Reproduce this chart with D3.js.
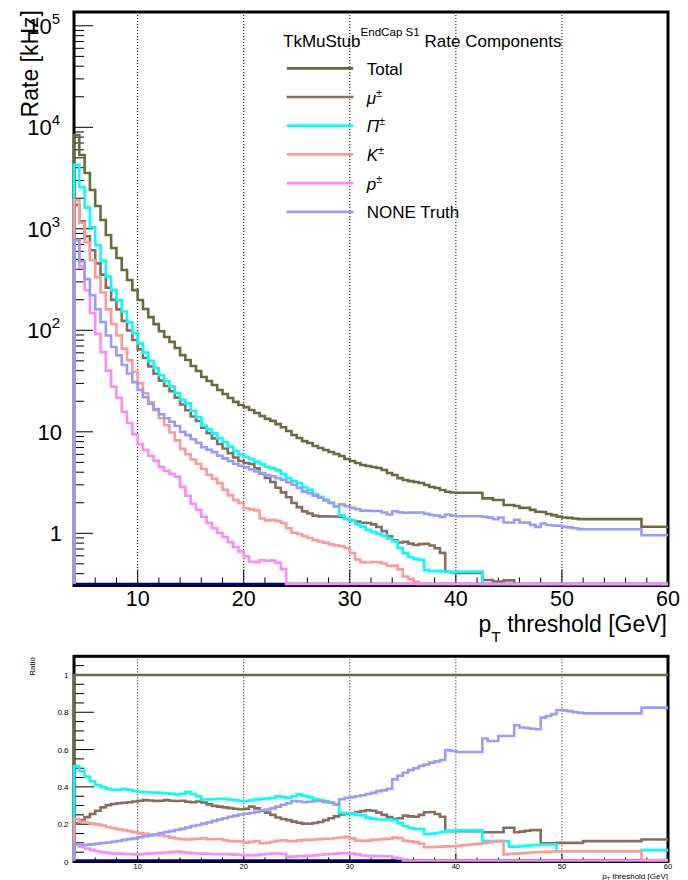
<!DOCTYPE html>
<html>
<head>
<meta charset="utf-8">
<script src="https://cdn.jsdelivr.net/npm/d3@7"></script>
<style>
  body { margin: 0; background: #fff; }
  svg { display: block; }
  text { font-family: "Liberation Sans", Arial, Helvetica, sans-serif; fill: #000; }
</style>
</head>
<body>
<svg id="chart" width="688" height="880"></svg>
<script>
// pT threshold bins: 0.5 GeV wide, 4 -> 60 GeV
const binEdges = d3.range(4, 60.001, 0.5);

// Total TkMuStub rate per threshold bin [kHz]
const totalRate = [
  8400, 5330, 3550, 2410, 1680, 1220, 870, 647, 515, 393,
  313, 249, 199, 162, 135, 115, 98, 86, 77, 67,
  57, 51, 44.5, 39.7, 34.7, 31.7, 28.9, 25.8, 23.6, 21.5,
  19.7, 18.4, 17.5, 16.4, 15.3, 14.3, 13.4, 12.8, 11.9, 11.1,
  10.2, 9.3, 8.7, 8.1, 7.76, 7.25, 6.92, 6.62, 6.32, 6.04,
  5.78, 5.4, 5.16, 4.93, 4.71, 4.6, 4.5, 4.4, 4.2, 3.93,
  3.75, 3.5, 3.35, 3.27, 3.2, 3.13, 2.99, 2.86, 2.79, 2.67,
  2.57, 2.52, 2.51, 2.51, 2.51, 2.51, 2.51, 2.21, 2.21, 2.13,
  2.13, 1.9, 1.9, 1.86, 1.78, 1.78, 1.7, 1.63, 1.62, 1.55,
  1.51, 1.46, 1.43, 1.42, 1.4, 1.38, 1.38, 1.38, 1.38, 1.38,
  1.38, 1.38, 1.38, 1.38, 1.38, 1.38, 1.38, 1.16, 1.16, 1.16,
  1.16, 1.16
];

// Fraction of the total rate carried by each truth category
const fracMu = [
  0.205, 0.222, 0.238, 0.255, 0.272, 0.29, 0.302, 0.308, 0.312, 0.315,
  0.318, 0.322, 0.326, 0.329, 0.327, 0.324, 0.326, 0.329, 0.326, 0.324,
  0.326, 0.32, 0.318, 0.322, 0.316, 0.306, 0.298, 0.294, 0.29, 0.286,
  0.283, 0.28, 0.282, 0.294, 0.285, 0.272, 0.262, 0.25, 0.236, 0.228,
  0.222, 0.214, 0.208, 0.203, 0.202, 0.206, 0.212, 0.222, 0.232, 0.242,
  0.252, 0.256, 0.258, 0.265, 0.27, 0.275, 0.272, 0.262, 0.25, 0.238,
  0.228, 0.232, 0.246, 0.242, 0.24, 0.25, 0.264, 0.265, 0.255, 0.24,
  0.163, 0.163, 0.162, 0.162, 0.162, 0.162, 0.162, 0.157, 0.157, 0.157,
  0.157, 0.181, 0.181, 0.157, 0.16, 0.165, 0.168, 0.168, 0.097, 0.097,
  0.098, 0.1, 0.1, 0.1, 0.1, 0.1, 0.109, 0.109, 0.109, 0.109,
  0.109, 0.109, 0.109, 0.109, 0.109, 0.109, 0.109, 0.118, 0.118, 0.118,
  0.118, 0.118
];
const fracPi = [
  0.51, 0.485, 0.455, 0.43, 0.41, 0.4, 0.39, 0.385, 0.383, 0.39,
  0.385, 0.378, 0.374, 0.372, 0.37, 0.369, 0.368, 0.366, 0.363, 0.36,
  0.362, 0.374, 0.362, 0.35, 0.332, 0.333, 0.334, 0.336, 0.336, 0.332,
  0.328, 0.325, 0.324, 0.328, 0.332, 0.336, 0.338, 0.342, 0.35, 0.345,
  0.342, 0.35, 0.36, 0.352, 0.345, 0.335, 0.33, 0.324, 0.318, 0.305,
  0.26, 0.258, 0.258, 0.25, 0.247, 0.235, 0.23, 0.225, 0.225, 0.225,
  0.222, 0.205, 0.19, 0.178, 0.175, 0.175, 0.146, 0.148, 0.153, 0.158,
  0.163, 0.165, 0.167, 0.167, 0.167, 0.167, 0.167, 0.109, 0.109, 0.109,
  0.109, 0.109, 0.08, 0.08, 0.082, 0.085, 0.088, 0.09, 0.091, 0.091,
  0.091, 0.055, 0.055, 0.055, 0.055, 0.055, 0.055, 0.055, 0.055, 0.055,
  0.055, 0.055, 0.055, 0.055, 0.055, 0.055, 0.055, 0.061, 0.061, 0.061,
  0.061, 0.061
];
const fracK = [
  0.228, 0.214, 0.208, 0.203, 0.199, 0.193, 0.185, 0.178, 0.173, 0.168,
  0.162, 0.157, 0.151, 0.148, 0.145, 0.142, 0.139, 0.135, 0.128, 0.123,
  0.119, 0.118, 0.12, 0.122, 0.124, 0.119, 0.119, 0.121, 0.114, 0.11,
  0.108, 0.108, 0.101, 0.105, 0.11, 0.098, 0.1, 0.106, 0.111, 0.114,
  0.11, 0.109, 0.113, 0.116, 0.116, 0.118, 0.12, 0.122, 0.123, 0.126,
  0.129, 0.132, 0.124, 0.112, 0.11, 0.112, 0.116, 0.118, 0.12, 0.122,
  0.128, 0.126, 0.112, 0.108, 0.104, 0.095, 0.076, 0.077, 0.079, 0.08,
  0.081, 0.082, 0.084, 0.088, 0.09, 0.093, 0.096, 0.1, 0.104, 0.108,
  0.109, 0.038, 0.04, 0.042, 0.044, 0.046, 0.048, 0.05, 0.051, 0.052,
  0.054, 0.055, 0.055, 0.055, 0.055, 0.055, 0.055, 0.055, 0.055, 0.055,
  0.055, 0.055, 0.055, 0.055, 0.055, 0.055, 0.055, 0.008, 0.008, 0.008,
  0.008, 0.008
];
const fracP = [
  0.092, 0.08, 0.07, 0.061, 0.055, 0.05, 0.046, 0.043, 0.042, 0.04,
  0.039, 0.038, 0.038, 0.041, 0.043, 0.045, 0.046, 0.048, 0.05, 0.054,
  0.05, 0.046, 0.044, 0.043, 0.042, 0.04, 0.039, 0.039, 0.039, 0.038,
  0.037, 0.036, 0.034, 0.032, 0.034, 0.038, 0.04, 0.042, 0.043, 0.04,
  0.025, 0.026, 0.028, 0.029, 0.031, 0.033, 0.036, 0.038, 0.04, 0.042,
  0.044, 0.044, 0.042, 0.038, 0.032, 0.03, 0.029, 0.028, 0.028, 0.028,
  0.02, 0.016, 0, 0, 0, 0, 0, 0, 0, 0,
  0, 0, 0, 0, 0, 0, 0, 0, 0, 0,
  0, 0, 0, 0, 0, 0, 0, 0, 0, 0,
  0, 0, 0, 0, 0, 0, 0, 0, 0, 0,
  0, 0, 0, 0, 0, 0, 0, 0, 0, 0,
  0, 0
];
const fracNone = [
  0.092, 0.09, 0.09, 0.092, 0.096, 0.099, 0.102, 0.106, 0.11, 0.116,
  0.12, 0.124, 0.13, 0.135, 0.14, 0.145, 0.152, 0.158, 0.163, 0.17,
  0.175, 0.182, 0.19, 0.196, 0.203, 0.21, 0.218, 0.225, 0.232, 0.24,
  0.246, 0.252, 0.256, 0.26, 0.266, 0.275, 0.279, 0.285, 0.294, 0.304,
  0.312, 0.324, 0.322, 0.318, 0.32, 0.324, 0.324, 0.318, 0.315, 0.306,
  0.334, 0.342, 0.345, 0.35, 0.355, 0.362, 0.368, 0.377, 0.382, 0.39,
  0.44, 0.46, 0.476, 0.49, 0.5, 0.512, 0.52, 0.53, 0.537, 0.544,
  0.597, 0.592, 0.587, 0.587, 0.587, 0.587, 0.587, 0.659, 0.646, 0.646,
  0.673, 0.673, 0.673, 0.73, 0.718, 0.716, 0.712, 0.709, 0.771, 0.78,
  0.79, 0.812, 0.81, 0.806, 0.8, 0.797, 0.794, 0.794, 0.794, 0.794,
  0.794, 0.794, 0.794, 0.794, 0.794, 0.794, 0.794, 0.825, 0.825, 0.825,
  0.825, 0.825
];
// Remaining category (no entries in any bin)
const fracOther = [
  0, 0, 0, 0, 0, 0, 0, 0, 0, 0, 0, 0, 0, 0, 0, 0, 0, 0, 0, 0,
  0, 0, 0, 0, 0, 0, 0, 0, 0, 0, 0, 0, 0, 0, 0, 0, 0, 0, 0, 0,
  0, 0, 0, 0, 0, 0, 0, 0, 0, 0, 0, 0, 0, 0, 0, 0, 0, 0, 0, 0,
  0, 0, 0, 0, 0, 0, 0, 0, 0, 0, 0, 0, 0, 0, 0, 0, 0, 0, 0, 0,
  0, 0, 0, 0, 0, 0, 0, 0, 0, 0, 0, 0, 0, 0, 0, 0, 0, 0, 0, 0,
  0, 0, 0, 0, 0, 0, 0, 0, 0, 0, 0, 0
];

// Axis ticks
const ptMajorTicks = [10, 20, 30, 40, 50, 60];
const rateDecades = [1, 10, 100, 1000, 10000, 100000];
const ratioMajorTicks = [0, 0.2, 0.4, 0.6, 0.8, 1];

// Series (drawing order) and legend entries
const series = [
  { key: "other", frac: fracOther, color: "#000080", legend: null },
  { key: "total", frac: null, color: "#6b6a3b", legend: [{ t: "Total" }] },
  { key: "mu", frac: fracMu, color: "#8a6c5d", legend: [{ t: "\u03bc", it: true }, { t: "\u00b1", sup: true }] },
  { key: "pi", frac: fracPi, color: "#00ffff", legend: [{ t: "\u03a0", it: true }, { t: "\u00b1", sup: true }] },
  { key: "K", frac: fracK, color: "#ff9999", legend: [{ t: "K", it: true }, { t: "\u00b1", sup: true }] },
  { key: "p", frac: fracP, color: "#ff88ff", legend: [{ t: "p", it: true }, { t: "\u00b1", sup: true }] },
  { key: "none", frac: fracNone, color: "#9999ff", legend: [{ t: "NONE Truth" }] }
];
const legendOrder = ["total", "mu", "pi", "K", "p", "none"];

const svg = d3.select("#chart");

// ---- geometry
const X0 = 74, X1 = 668;
const padTop = { y0: 12, y1: 585.5 };
const padBot = { y0: 656.3, y1: 861.5 };

const x = d3.scaleLinear().domain([4, 60]).range([X0, X1]);
const yRate = d3.scaleLog().domain([0.306, 1.368e5]).range([padTop.y1, padTop.y0]);
const yRatio = d3.scaleLinear().domain([0, 1.1]).range([padBot.y1, padBot.y0]);

const stepLine = d3.line().x(d => d[0]).y(d => d[1]).curve(d3.curveStepAfter);

function histPoints(vals, yScale, floorY, ceilY) {
  const lo = yScale.domain()[0];
  const pts = [[x(binEdges[0]), floorY]];
  vals.forEach((v, i) => {
    let yy = v <= lo ? floorY : yScale(v);
    yy = Math.max(ceilY, Math.min(floorY, yy));
    pts.push([x(binEdges[i]), yy]);
  });
  const last = pts[pts.length - 1][1];
  pts.push([x(binEdges[binEdges.length - 1]), last]);
  return pts;
}

function dottedGrid(g, y0, y1) {
  g.selectAll("line.grid").data(ptMajorTicks.filter(t => t < 60)).join("line")
    .attr("class", "grid")
    .attr("x1", d => x(d)).attr("x2", d => x(d))
    .attr("y1", y0).attr("y2", y1)
    .attr("stroke", "#000").attr("stroke-width", 1)
    .attr("stroke-dasharray", "1,2");
}

function xTicks(g, yb, majLen, minLen) {
  const minors = d3.range(6, 60, 2).filter(t => t % 10 !== 0);
  g.selectAll("line.xmin").data(minors).join("line").attr("class", "xmin")
    .attr("x1", d => x(d)).attr("x2", d => x(d))
    .attr("y1", yb).attr("y2", yb - minLen)
    .attr("stroke", "#000").attr("stroke-width", 1);
  g.selectAll("line.xmaj").data(ptMajorTicks).join("line").attr("class", "xmaj")
    .attr("x1", d => x(d)).attr("x2", d => x(d))
    .attr("y1", yb).attr("y2", yb - majLen)
    .attr("stroke", "#000").attr("stroke-width", 1);
}

// ======================= upper pad: rates =======================
const gTop = svg.append("g");
dottedGrid(gTop, padTop.y0, padTop.y1);
xTicks(gTop, padTop.y1, 16, 8);

// log y ticks
const logTicks = [];
for (let e = -1; e <= 5; e++) {
  for (let m = 1; m <= 9; m++) {
    const v = m * Math.pow(10, e);
    if (v >= yRate.domain()[0] && v <= yRate.domain()[1]) logTicks.push({ v, major: m === 1 });
  }
}
gTop.selectAll("line.ytick").data(logTicks).join("line").attr("class", "ytick")
  .attr("x1", X0).attr("x2", d => X0 + (d.major ? 19 : 10))
  .attr("y1", d => yRate(d.v)).attr("y2", d => yRate(d.v))
  .attr("stroke", "#000").attr("stroke-width", 1);

gTop.append("rect").attr("x", X0).attr("y", padTop.y0)
  .attr("width", X1 - X0).attr("height", padTop.y1 - padTop.y0)
  .attr("fill", "none").attr("stroke", "#000").attr("stroke-width", 3);

// histograms
const gTopH = gTop.append("g");
series.forEach(s => {
  const vals = s.frac ? totalRate.map((t, i) => t * s.frac[i]) : totalRate;
  gTopH.append("path")
    .attr("d", stepLine(histPoints(vals, yRate, padTop.y1 - 1.5, padTop.y0 + 1.5)))
    .attr("fill", "none").attr("stroke", s.color).attr("stroke-width", 2.6);
});

// x labels
gTop.selectAll("text.xl").data(ptMajorTicks).join("text").attr("class", "xl")
  .attr("x", d => x(d)).attr("y", 606)
  .attr("text-anchor", "middle").attr("font-size", 21.5)
  .text(d => d);

// y labels
rateDecades.forEach(v => {
  const e = Math.round(Math.log10(v));
  const t = gTop.append("text").attr("y", yRate(v) + 8).attr("font-size", 22)
    .attr("text-anchor", "end");
  if (e >= 2) {
    t.attr("x", 60);
    t.append("tspan").text("10");
    t.append("tspan").attr("font-size", 15).attr("dy", -10).text(e);
  } else {
    t.attr("x", 62).text(e === 1 ? "10" : "1");
  }
});

// axis titles
gTop.append("text")
  .attr("transform", "translate(38,10) rotate(-90)")
  .attr("text-anchor", "end").attr("font-size", 23)
  .text("Rate [kHz]");

const xt = gTop.append("text").attr("x", 667).attr("y", 631.5)
  .attr("text-anchor", "end").attr("font-size", 23);
xt.append("tspan").text("p");
xt.append("tspan").attr("font-size", 15.5).attr("dy", 10).text("T");
xt.append("tspan").attr("dy", -10).text(" threshold [GeV]");

// legend
const gLeg = svg.append("g");
const lt = gLeg.append("text").attr("x", 283).attr("y", 46.5).attr("font-size", 17);
lt.append("tspan").text("TkMuStub");
lt.append("tspan").attr("font-size", 11.6).attr("dy", -11).text("EndCap S1");
lt.append("tspan").attr("dy", 11).text(" Rate Components");

legendOrder.forEach((key, i) => {
  const s = series.find(d => d.key === key);
  const ly = 68.3 + i * 28.7;
  gLeg.append("line").attr("x1", 286.7).attr("x2", 353.3)
    .attr("y1", ly).attr("y2", ly)
    .attr("stroke", s.color).attr("stroke-width", 2.7);
  const tx = gLeg.append("text").attr("x", 366.7).attr("y", ly + 6.5).attr("font-size", 17);
  s.legend.forEach(part => {
    const sp = tx.append("tspan").text(part.t);
    if (part.it) sp.attr("font-style", "italic");
    if (part.sup) sp.attr("font-size", 11).attr("dy", -7);
  });
});

// ======================= lower pad: ratios =======================
const gBot = svg.append("g");
dottedGrid(gBot, padBot.y0, padBot.y1);
xTicks(gBot, padBot.y1, 8, 4);

const ratioTicks = d3.range(0, 1.1001, 0.05).map(v => ({ v, major: Math.abs(v / 0.2 - Math.round(v / 0.2)) < 1e-6 }));
gBot.selectAll("line.ytick").data(ratioTicks).join("line").attr("class", "ytick")
  .attr("x1", X0).attr("x2", d => X0 + (d.major ? 20 : 10))
  .attr("y1", d => yRatio(d.v)).attr("y2", d => yRatio(d.v))
  .attr("stroke", "#000").attr("stroke-width", 1);

gBot.append("rect").attr("x", X0).attr("y", padBot.y0)
  .attr("width", X1 - X0).attr("height", padBot.y1 - padBot.y0)
  .attr("fill", "none").attr("stroke", "#000").attr("stroke-width", 3);

const gBotH = gBot.append("g");
series.forEach(s => {
  const vals = s.frac ? s.frac : totalRate.map(t => t / t);
  gBotH.append("path")
    .attr("d", stepLine(histPoints(vals, yRatio, padBot.y1 - 1, padBot.y0 + 1.5)))
    .attr("fill", "none").attr("stroke", s.color).attr("stroke-width", 2.6);
});

gBot.selectAll("text.yl").data(ratioMajorTicks).join("text").attr("class", "yl")
  .attr("x", 68.5).attr("y", d => yRatio(d) + 3)
  .attr("text-anchor", "end").attr("font-size", 8)
  .text(d => d3.format("~g")(d));

gBot.selectAll("text.xl").data(ptMajorTicks).join("text").attr("class", "xl")
  .attr("x", d => x(d)).attr("y", 869)
  .attr("text-anchor", "middle").attr("font-size", 7.5)
  .text(d => d);

gBot.append("text")
  .attr("transform", "translate(35,657) rotate(-90)")
  .attr("text-anchor", "end").attr("font-size", 8)
  .text("Ratio");

const xb = gBot.append("text").attr("x", 668).attr("y", 878.5)
  .attr("text-anchor", "end").attr("font-size", 8);
xb.append("tspan").text("p");
xb.append("tspan").attr("font-size", 5.5).attr("dy", 2).text("T");
xb.append("tspan").attr("dy", -2).text(" threshold [GeV]");
</script>
</body>
</html>
